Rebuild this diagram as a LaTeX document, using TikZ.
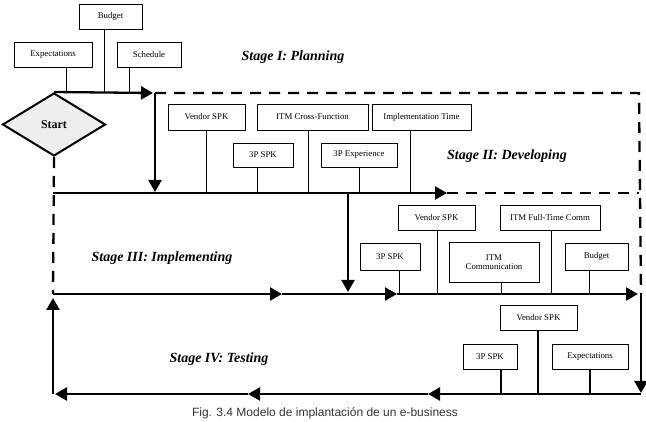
\documentclass[tikz,border=0pt]{standalone}
\usepackage{fontspec}
\setmainfont{Liberation Serif}
\newfontfamily\capfont{Liberation Sans}
\usetikzlibrary{arrows.meta,shapes.geometric,calc}
\tikzset{
  box/.style={draw, line width=0.8pt, inner sep=1pt, font=\fontsize{8.8}{9.5}\selectfont, align=center},
  conn/.style={line width=0.9pt},
  connb/.style={line width=1.8pt},
  mainl/.style={line width=2.3pt},
  dashl/.style={line width=2.3pt, dash pattern=on 11pt off 8pt},
  tip/.style={-{Triangle[length=12pt,width=13pt]}},
  stagetxt/.style={font=\fontsize{14}{16}\selectfont\bfseries\itshape},
}
\begin{document}
\begin{tikzpicture}[x=1pt,y=-1pt]
\useasboundingbox (0,0) rectangle (646,422);

% Start diamond
\node[diamond, draw, line width=2pt, fill=gray!13, minimum width=103pt, minimum height=63pt, inner sep=0pt,
      font=\fontsize{12}{14}\selectfont\bfseries] (start) at (54,124.5) {Start};

% coordinates
\coordinate (A1) at (153,93);
\coordinate (V1t) at (155,93);
\coordinate (V1b) at (155,192);
\coordinate (TR) at (639,93);
\coordinate (L2) at (53,193);
\coordinate (A2) at (447,193);
\coordinate (R2) at (639,193);
\coordinate (V2t) at (348,193);
\coordinate (V2b) at (348,292);
\coordinate (L3) at (53,294);
\coordinate (A3a) at (282,294);
\coordinate (A3b) at (397,294);
\coordinate (A3c) at (638,294);
\coordinate (R3) at (641,294);
\coordinate (R4) at (641,393);
\coordinate (B0) at (641,394);
\coordinate (Ba) at (428,394);
\coordinate (Bb) at (248,394);
\coordinate (Bc) at (55,394);
\coordinate (L4) at (53,394);
\coordinate (Up) at (53,298);

% Stage I boxes
\node[box, minimum width=63pt, minimum height=25pt] (budget1) at (110.5,16.5) {Budget};
\node[box, minimum width=78pt, minimum height=25pt] (expect1) at (53,54.5) {Expectations};
\node[box, minimum width=64pt, minimum height=25pt] (sched1) at (149,54.5) {Schedule};
\node[stagetxt] (st1) at (293,57) {Stage I: Planning};

% Stage II boxes
\node[box, minimum width=77pt, minimum height=26pt] (vendor2) at (206.5,117) {Vendor SPK};
\node[box, minimum width=111pt, minimum height=26pt] (itmcf) at (312.5,117) {ITM Cross-Function};
\node[box, minimum width=99pt, minimum height=26pt] (impl) at (421.5,117) {Implementation Time};
\node[box, minimum width=60pt, minimum height=24pt] (sp2) at (263,155) {3P SPK};
\node[box, minimum width=76pt, minimum height=24pt] (spexp) at (359,155) {3P Experience};
\node[stagetxt] (st2) at (507,156) {Stage II: Developing};

% Stage III boxes
\node[box, minimum width=77pt, minimum height=25pt] (vendor3) at (436.5,217.5) {Vendor SPK};
\node[box, minimum width=100pt, minimum height=25pt] (itmft) at (550,217.5) {ITM Full-Time Comm};
\node[box, minimum width=60pt, minimum height=27pt] (sp3) at (390,256.5) {3P SPK};
\node[box, minimum width=90pt, minimum height=40pt] (itmcomm) at (494,262) {ITM\\Communication};
\node[box, minimum width=63pt, minimum height=27pt] (budget3) at (596.5,256.5) {Budget};
\node[stagetxt] (st3) at (162,258) {Stage III: Implementing};

% Stage IV boxes
\node[box, minimum width=77pt, minimum height=25pt] (vendor4) at (538.5,317.5) {Vendor SPK};
\node[box, minimum width=54pt, minimum height=25pt] (sp4) at (490,356.5) {3P SPK};
\node[box, minimum width=76pt, minimum height=25pt] (expect4) at (590,356.5) {Expectations};
\node[stagetxt] (st4) at (219,359) {Stage IV: Testing};

% caption
\node[font=\capfont\fontsize{12}{14}\selectfont, text=black!80, inner sep=0pt] (cap) at (325,413.5) {Fig. 3.4 Modelo de implantación de un e-business};

% connectors stage I
\draw[conn] ([xshift=-6.5pt]budget1.south) -- ([xshift=-6.5pt]budget1.south |- A1);
\draw[conn] ([xshift=13pt]expect1.south) -- ([xshift=13pt]expect1.south |- A1);
\draw[conn] ([xshift=-20pt]sched1.south) -- ([xshift=-20pt]sched1.south |- A1);
% connectors stage II
\draw[conn] ([xshift=-0.5pt]vendor2.south) -- ([xshift=-0.5pt]vendor2.south |- L2);
\draw[conn] ([xshift=-4.5pt]itmcf.south) -- ([xshift=-4.5pt]itmcf.south |- L2);
\draw[conn] ([xshift=-11.5pt]impl.south) -- ([xshift=-11.5pt]impl.south |- L2);
\draw[conn] ([xshift=-6pt]sp2.south) -- ([xshift=-6pt]sp2.south |- L2);
\draw[conn] (spexp.south) -- (spexp.south |- L2);
% connectors stage III
\draw[conn] ([xshift=0.5pt]vendor3.south) -- ([xshift=0.5pt]vendor3.south |- L3);
\draw[conn] ([xshift=1pt]itmft.south) -- ([xshift=1pt]itmft.south |- L3);
\draw[conn] ([xshift=9pt]sp3.south) -- ([xshift=9pt]sp3.south |- L3);
\draw[conn] ([xshift=7pt]itmcomm.south) -- ([xshift=7pt]itmcomm.south |- L3);
\draw[conn] ([xshift=-7.5pt]budget3.south) -- ([xshift=-7.5pt]budget3.south |- L3);
% connectors stage IV
\draw[connb] ([xshift=-0.5pt]vendor4.south) -- ([xshift=-0.5pt]vendor4.south |- L4);
\draw[connb] ([xshift=11pt]sp4.south) -- ([xshift=11pt]sp4.south |- L4);
\draw[connb] (expect4.south) -- (expect4.south |- L4);

% Stage I main line
\draw[mainl, tip] (start.north) -- (A1);
\draw[mainl, tip] (V1t) -- (V1b);
\draw[dashl] (V1t) -- (TR) -- (R3);
% Stage II line
\draw[mainl, tip] (L2) -- (A2);
\draw[dashl] (A2) -- (R2);
\draw[dashl] (start.south) -- (L3);
\draw[mainl, tip] (V2t) -- (V2b);
% Stage III line
\draw[mainl, tip] (L3) -- (A3a);
\draw[mainl, tip] (A3a) -- (A3b);
\draw[mainl, tip] (A3b) -- (A3c);
% Stage IV
\draw[mainl, tip] (R3) -- (R4);
\draw[mainl, tip] (B0) -- (Ba);
\draw[mainl, tip] (Ba) -- (Bb);
\draw[mainl, tip] (Bb) -- (Bc);
\draw[mainl, tip] (L4) -- (Up);
\end{tikzpicture}
\end{document}
